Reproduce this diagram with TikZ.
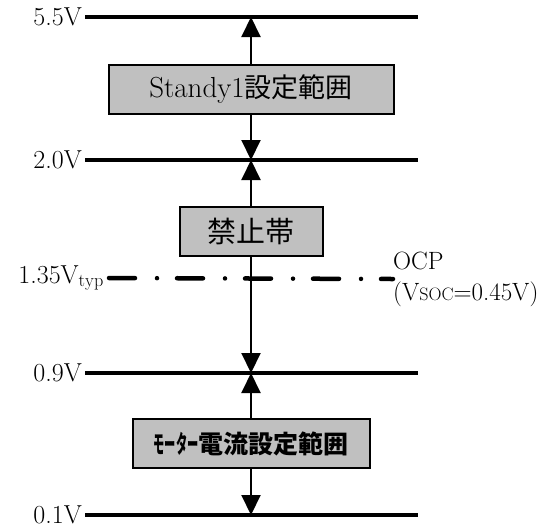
\documentclass[tikz,border=0pt]{standalone}
\usepackage{fontspec}
\usepackage{graphicx}
\newfontfamily\jp{Noto Sans CJK JP}
\usetikzlibrary{arrows.meta}
\definecolor{boxgray}{RGB}{192,192,192}
\tikzset{
  lvl/.style={line width=3.5pt},
  lbl/.style={anchor=east,inner sep=3pt,font=\fontsize{26}{26}\selectfont},
  rng/.style={draw,line width=2pt,fill=boxgray,inner sep=0pt,minimum height=49pt},
  arr/.style={line width=2pt,-{Triangle[length=20pt,width=19pt]}},
  ocpline/.style={line width=4.5pt,line cap=round,dash pattern=on 26pt off 22pt on 0pt off 20pt}
}
\begin{document}
\begin{tikzpicture}[x=1pt,y=-1pt]
\useasboundingbox (0,0) rectangle (548,528);
% voltage levels
\node[lbl] (v55) at (85,17) {5.5V};
\node[lbl] (v20) at (85,160) {2.0V};
\node[lbl] (v09) at (85,373) {0.9V};
\node[lbl] (v01) at (85,515) {0.1V};
\node[lbl,inner sep=5pt] (v135) at (109,278) {1.35V$_{\mathrm{typ}}$};
\coordinate (e55) at (418,17);
\coordinate (e20) at (418,160);
\coordinate (e09) at (418,373);
\coordinate (e01) at (418,515);
\draw[lvl] (v55.east) -- (e55);
\draw[lvl] (v20.east) -- (e20);
\draw[lvl] (v09.east) -- (e09);
\draw[lvl] (v01.east) -- (e01);
% OCP
\node[anchor=west,align=left,inner sep=0pt,font=\fontsize{25}{31}\selectfont] (ocp) at (393,279)
  {OCP\\(V{\fontsize{18}{18}\selectfont SOC}=0.45V)};
\draw[ocpline] (v135.east) -- (ocp.west);
% ranges
\node[rng,minimum width=285pt,font=\fontsize{27}{27}\selectfont] (stby) at (251,89.5)
  {{\rmfamily\fontsize{29}{29}\selectfont Standy1}{\jp 設定範囲}};
\node[rng,minimum width=143pt,font=\fontsize{29}{29}\selectfont] (kinshi) at (251,231.5)
  {\jp 禁止帯};
\node[rng,minimum width=237pt,font=\fontsize{25}{25}\selectfont] (motor) at (251,443.5)
  {\jp\bfseries\scalebox{0.45}[1]{モーター}電流設定範囲};
\coordinate (t55) at (251,17);
\coordinate (t20) at (251,160);
\coordinate (t09) at (251,373);
\coordinate (t01) at (251,515);
\draw[arr] (stby.north) -- (t55);
\draw[arr] (stby.south) -- (t20);
\draw[arr] (kinshi.north) -- (t20);
\draw[arr] (kinshi.south) -- (t09);
\draw[arr] (motor.north) -- (t09);
\draw[arr] (motor.south) -- (t01);
\end{tikzpicture}
\end{document}
